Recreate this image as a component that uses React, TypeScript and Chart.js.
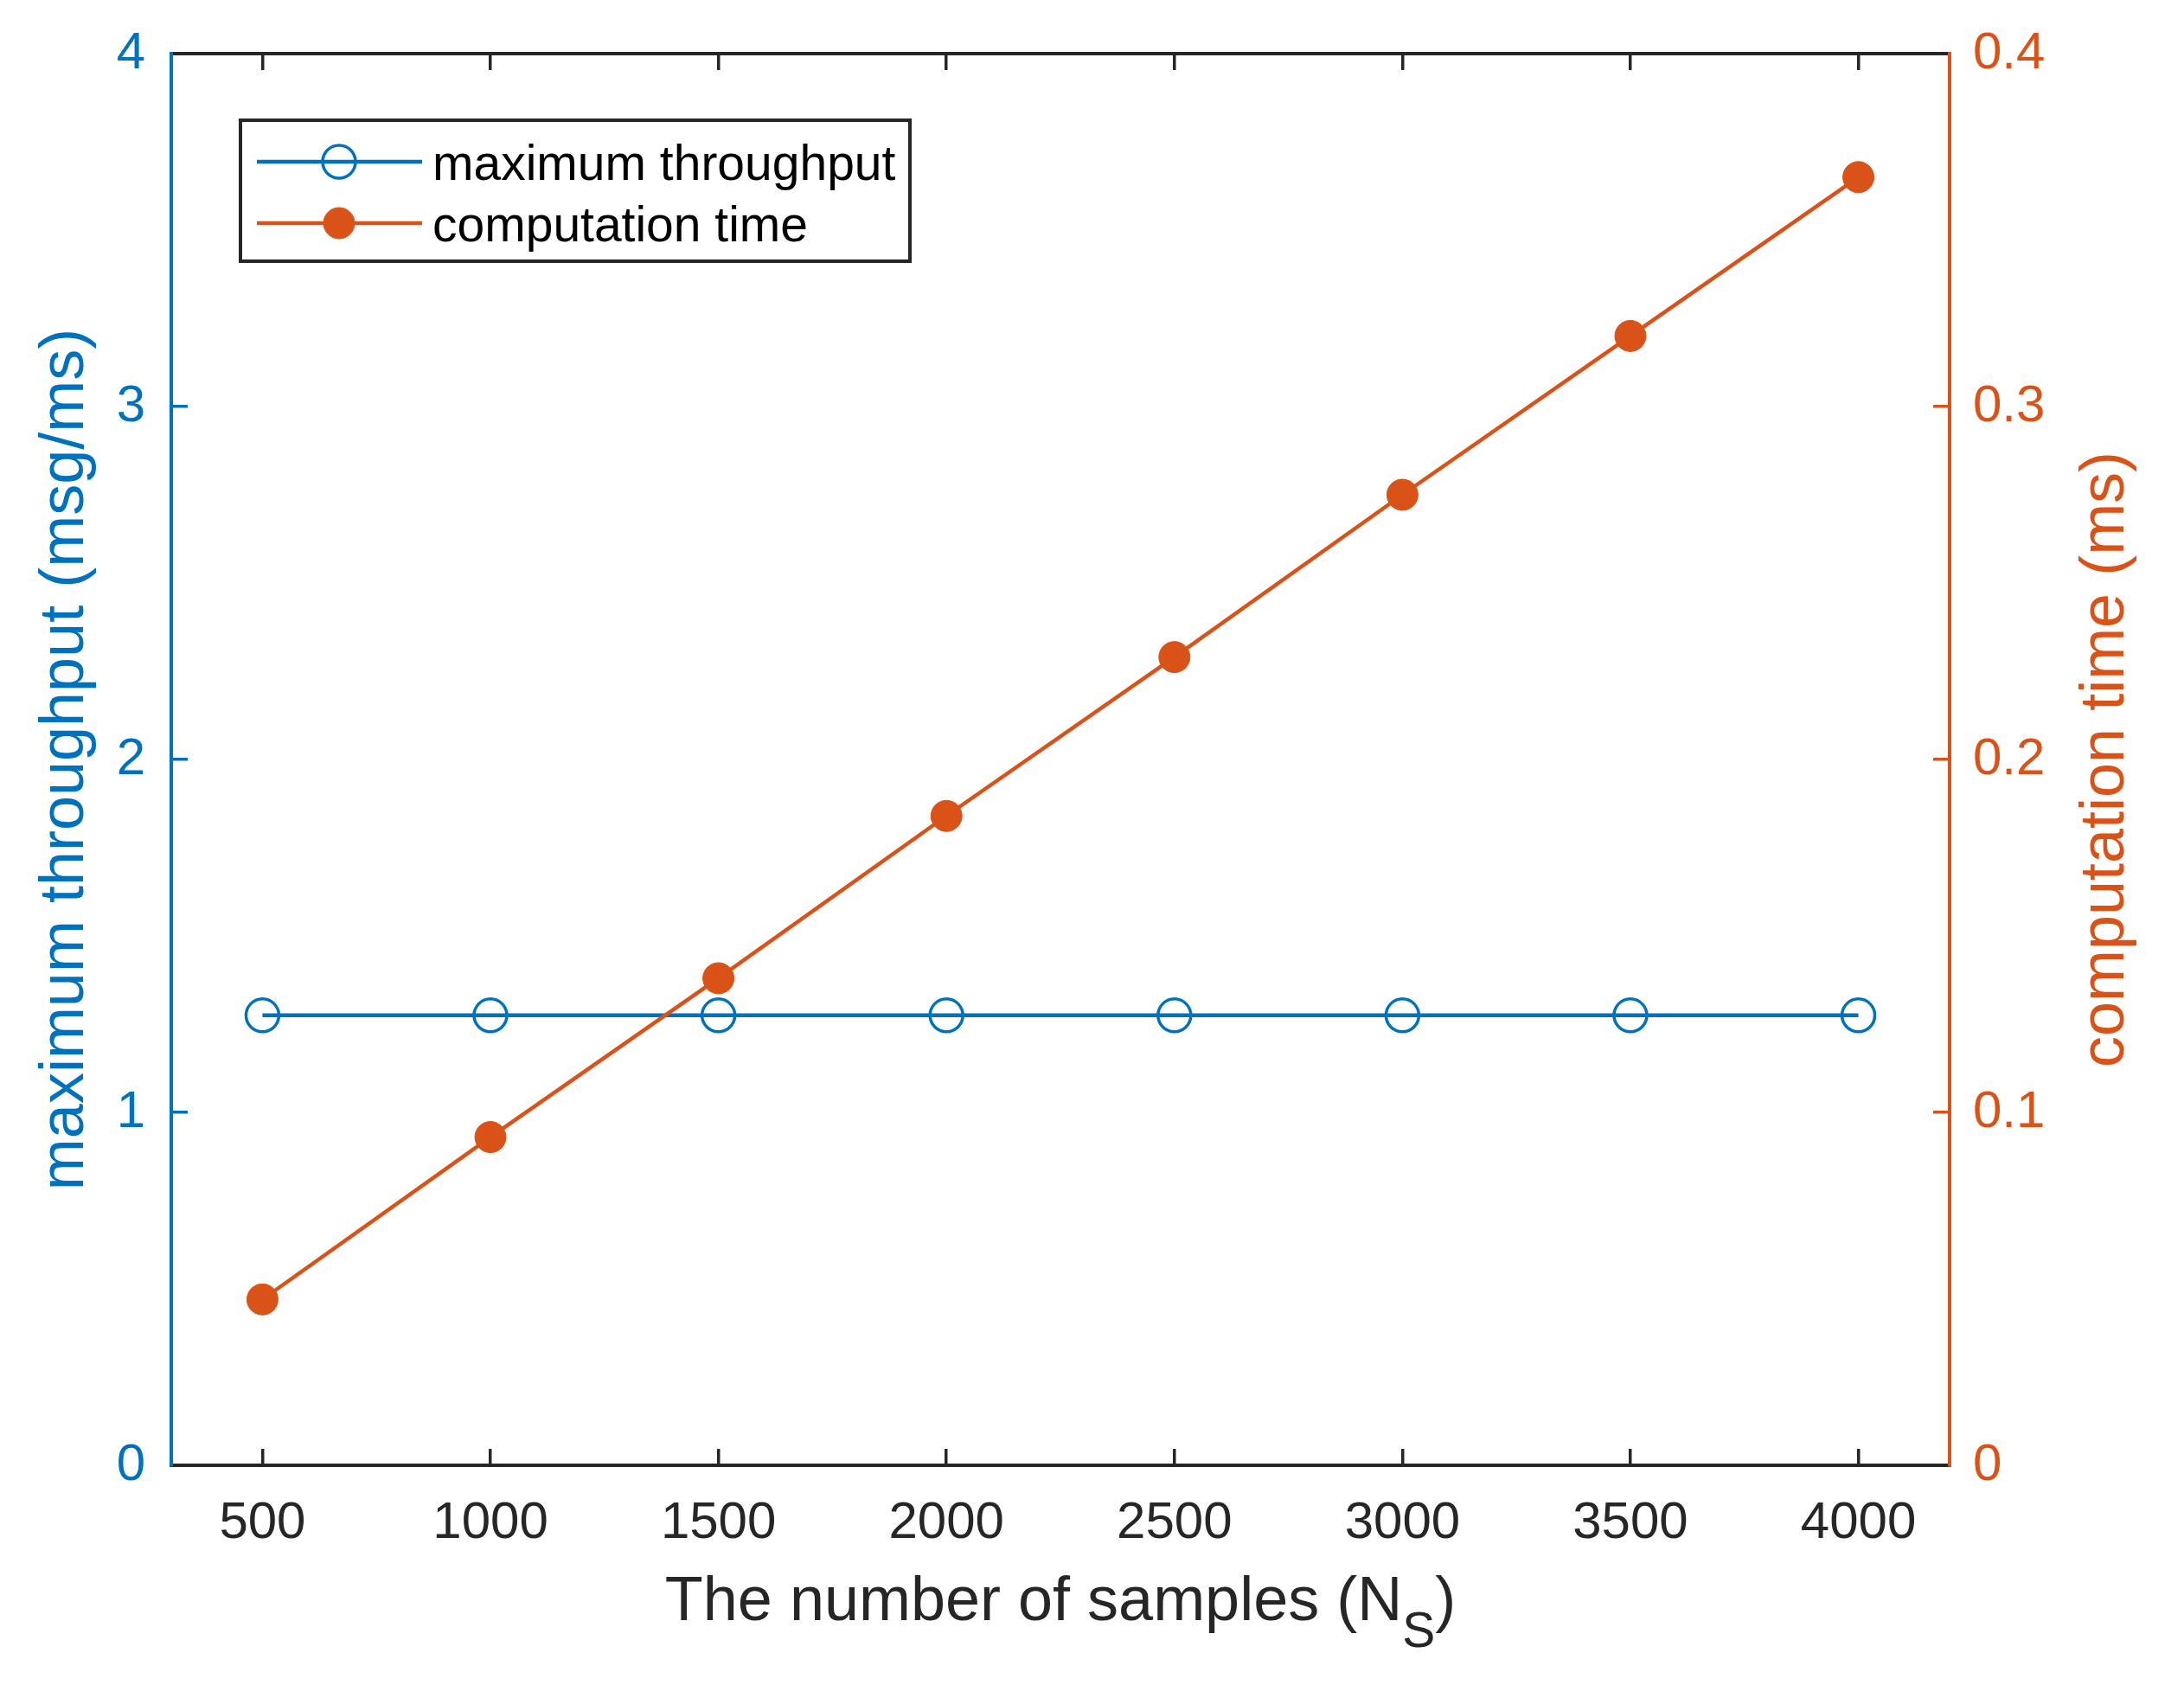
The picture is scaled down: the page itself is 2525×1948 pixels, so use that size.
import React, { useEffect, useRef } from 'react';
import Chart from 'chart.js/auto';

// values
const samples = [500, 1000, 1500, 2000, 2500, 3000, 3500, 4000];
const maxThroughput = [1.275, 1.275, 1.275, 1.275, 1.275, 1.275, 1.275, 1.275];
const computationTime = [0.047, 0.093, 0.138, 0.184, 0.229, 0.275, 0.32, 0.365];

const xTicks = [500, 1000, 1500, 2000, 2500, 3000, 3500, 4000];
const leftTicks = [0, 1, 2, 3, 4];
const rightTicks = [0, 0.1, 0.2, 0.3, 0.4];

const seriesNames = ['maximum throughput', 'computation time'];
const xTitle = 'The number of samples (N';
const xTitleSub = 'S';
const leftTitle = 'maximum throughput (msg/ms)';
const rightTitle = 'computation time (ms)';

const BLUE = '#0072BD';
const ORANGE = '#D95319';
const DARK = '#262626';
const FONT = '"Liberation Sans", Arial, sans-serif';

const decorations = {
  id: 'decorations',
  afterDraw(chart: any) {
    const { ctx, chartArea } = chart;
    const cx = (chartArea.left + chartArea.right) / 2;
    const cy = (chartArea.top + chartArea.bottom) / 2;
    ctx.save();

    // x axis title with subscript
    ctx.fillStyle = DARK;
    ctx.textBaseline = 'alphabetic';
    ctx.textAlign = 'left';
    ctx.font = `72px ${FONT}`;
    const wMain = ctx.measureText(xTitle).width;
    const wClose = ctx.measureText(')').width;
    ctx.font = `57px ${FONT}`;
    const wSub = ctx.measureText(xTitleSub).width;
    let x = cx - (wMain + wSub + wClose) / 2;
    const base = chartArea.bottom + 179;
    ctx.font = `72px ${FONT}`;
    ctx.fillText(xTitle, x, base);
    x += wMain;
    ctx.font = `57px ${FONT}`;
    ctx.fillText(xTitleSub, x, base + 31);
    x += wSub;
    ctx.font = `72px ${FONT}`;
    ctx.fillText(')', x, base);

    // y titles
    ctx.textAlign = 'center';
    ctx.save();
    ctx.translate(chartArea.left - 102, cy);
    ctx.rotate(-Math.PI / 2);
    ctx.fillStyle = BLUE;
    ctx.fillText(leftTitle, 0, 0);
    ctx.restore();

    ctx.save();
    ctx.translate(chartArea.right + 201, cy);
    ctx.rotate(-Math.PI / 2);
    ctx.fillStyle = ORANGE;
    ctx.fillText(rightTitle, 0, 0);
    ctx.restore();

    // legend
    const bx = chartArea.left + 80;
    const by = chartArea.top + 77;
    ctx.fillStyle = '#ffffff';
    ctx.fillRect(bx, by, 774, 163);
    ctx.lineWidth = 4;
    ctx.strokeStyle = DARK;
    ctx.strokeRect(bx, by, 774, 163);
    const rows = [by + 48, by + 119];
    chart.data.datasets.forEach((ds: any, i: number) => {
      const ry = rows[i];
      ctx.strokeStyle = ds.borderColor;
      ctx.lineWidth = ds.borderWidth;
      ctx.beginPath();
      ctx.moveTo(bx + 19, ry);
      ctx.lineTo(bx + 210, ry);
      ctx.stroke();
      ctx.beginPath();
      ctx.arc(bx + 114, ry, ds.pointRadius, 0, Math.PI * 2);
      if (ds.pointBackgroundColor !== 'transparent') {
        ctx.fillStyle = ds.pointBackgroundColor;
        ctx.fill();
      }
      ctx.lineWidth = ds.pointBorderWidth;
      ctx.strokeStyle = ds.pointBorderColor;
      ctx.stroke();
      ctx.fillStyle = '#000000';
      ctx.textAlign = 'left';
      ctx.font = `57px ${FONT}`;
      ctx.fillText(ds.label, bx + 222, ry + 21);
    });

    ctx.restore();
  },
};

const App: React.FC = () => {
  const canvasRef = useRef<HTMLCanvasElement>(null);

  useEffect(() => {
    if (!canvasRef.current) return;
    const ctx = canvasRef.current.getContext('2d');
    if (!ctx) return;

    const tickFont = { family: FONT, size: 60 };
    const setTicks = (vals: number[]) => (scale: any) => {
      scale.ticks = vals.map((v) => ({ value: v }));
    };
    // fixed box sizes, and no label overhang padding pushing the plot area around
    const fixSize = (w: number | null, h: number | null) => (scale: any) => {
      if (w !== null) scale.width = w;
      if (h !== null) scale.height = h;
      scale.paddingTop = 0;
      scale.paddingBottom = 0;
      scale.paddingLeft = 0;
      scale.paddingRight = 0;
    };

    const chart = new Chart(ctx, {
      type: 'line',
      data: {
        datasets: [
          {
            label: seriesNames[0],
            data: samples.map((s, i) => ({ x: s, y: maxThroughput[i] })),
            yAxisID: 'y',
            borderColor: BLUE,
            borderWidth: 4.5,
            pointRadius: 19,
            pointBorderWidth: 3.5,
            pointBorderColor: BLUE,
            pointBackgroundColor: 'transparent',
            order: 2,
          },
          {
            label: seriesNames[1],
            data: samples.map((s, i) => ({ x: s, y: computationTime[i] })),
            yAxisID: 'y1',
            borderColor: ORANGE,
            borderWidth: 4.5,
            pointRadius: 18,
            pointBorderWidth: 1,
            pointBorderColor: ORANGE,
            pointBackgroundColor: ORANGE,
            order: 1,
          },
        ],
      },
      options: {
        animation: false,
        responsive: true,
        maintainAspectRatio: false,
        layout: { padding: { top: 62, left: 0, right: 0, bottom: 0 } },
        plugins: {
          legend: { display: false },
          tooltip: { enabled: false },
        },
        elements: { line: { tension: 0 } },
        scales: {
          x: {
            type: 'linear',
            position: 'bottom',
            min: 300,
            max: 4200,
            afterBuildTicks: setTicks(xTicks),
            afterFit: fixSize(null, 254),
            ticks: { font: tickFont, color: DARK, padding: 50, maxRotation: 0, callback: (v: any) => String(v) },
            grid: { drawOnChartArea: false, tickLength: -19, color: DARK, lineWidth: 3.5 },
            border: { color: DARK, width: 4 },
          },
          x2: {
            type: 'linear',
            position: 'top',
            min: 300,
            max: 4200,
            afterBuildTicks: setTicks(xTicks),
            afterFit: fixSize(null, 0),
            ticks: { display: false },
            grid: { drawOnChartArea: false, tickLength: -19, color: DARK, lineWidth: 3.5 },
            border: { color: DARK, width: 4 },
          },
          y: {
            type: 'linear',
            position: 'left',
            min: 0,
            max: 4,
            afterBuildTicks: setTicks(leftTicks),
            afterFit: fixSize(198, null),
            ticks: { font: tickFont, color: BLUE, padding: 49, callback: (v: any) => String(v) },
            grid: { drawOnChartArea: false, tickLength: -19, color: BLUE, lineWidth: 3.5 },
            border: { color: BLUE, width: 4 },
          },
          y1: {
            type: 'linear',
            position: 'right',
            min: 0,
            max: 0.4,
            afterBuildTicks: setTicks(rightTicks),
            afterFit: fixSize(271, null),
            ticks: { font: tickFont, color: ORANGE, padding: 46, callback: (v: any) => String(v) },
            grid: { drawOnChartArea: false, tickLength: -19, color: ORANGE, lineWidth: 3.5 },
            border: { color: ORANGE, width: 4 },
          },
        },
      },
      plugins: [decorations],
    });

    return () => {
      chart.destroy();
    };
  }, []);

  return (
    <div style={{ position: 'absolute', left: 0, top: 0, width: 2525, height: 1948, background: '#fff' }}>
      <canvas ref={canvasRef} />
    </div>
  );
};

export default App;
